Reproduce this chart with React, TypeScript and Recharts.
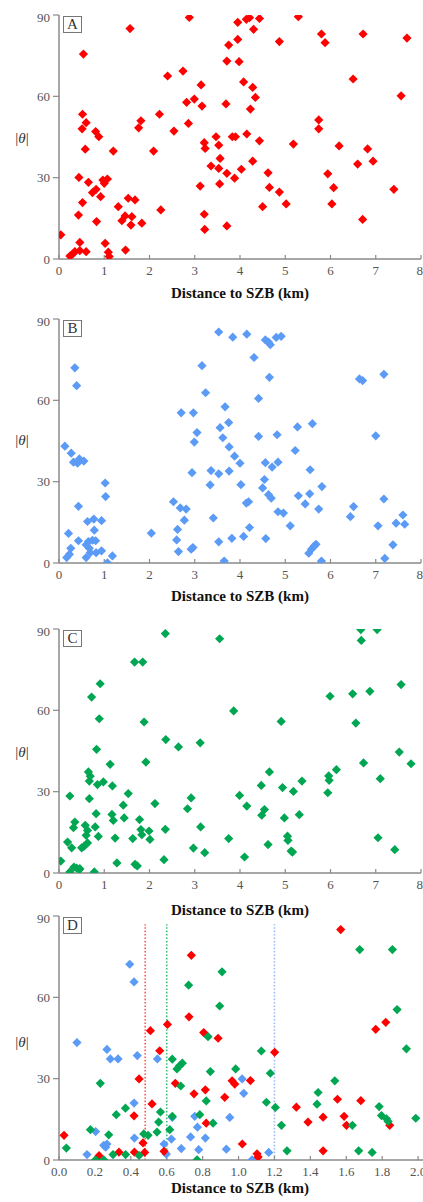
import React from "react";
import {
  ReferenceLine,
  Scatter,
  ScatterChart,
  XAxis,
  YAxis,
} from "recharts";

// [distance km, |theta|]
const redA: [number, number][] = [
  [0.04, 8.9], [0.24, 1.1], [0.3, 1.8], [0.35, 2.7], [0.46, 3.1], [0.6, 2.7],
  [0.46, 6.1], [0.43, 16.2], [0.44, 30.1], [0.52, 20.8], [0.58, 40.5], [0.51, 48],
  [0.6, 50.3], [0.52, 53.4], [0.54, 75.6], [0.65, 28.3], [0.74, 24.5], [0.82, 25.7],
  [0.83, 13.8], [0.81, 47], [0.88, 45.1], [0.92, 23], [0.97, 29.1], [1.0, 27.9],
  [1.07, 29.5], [1.02, 5.8], [1.09, 2.5], [1.11, 0.9], [1.2, 39.8], [1.31, 19.3],
  [1.39, 14.1], [1.46, 15.9], [1.47, 3.3], [1.53, 22.4], [1.57, 85], [1.59, 12.5],
  [1.61, 15.6], [1.68, 21.8], [1.76, 48.4], [1.81, 51], [1.83, 13.2], [2.09, 39.8],
  [2.22, 53.4], [2.25, 18.1], [2.4, 67.5], [2.54, 47.2], [2.74, 69.3], [2.82, 57.8],
  [2.86, 50], [2.88, 89.1], [2.99, 59], [3.12, 26.9], [3.14, 64.2], [3.16, 56.4],
  [3.21, 42.9], [3.23, 40.8], [3.21, 16.5], [3.22, 10.9], [3.36, 34.3], [3.47, 45.1],
  [3.53, 33.4], [3.53, 42], [3.56, 37.1], [3.55, 27.7], [3.71, 12.2], [3.71, 31.6],
  [3.69, 57.2], [3.71, 73], [3.75, 78.9], [3.83, 45.1], [3.9, 45.1], [3.88, 29.8],
  [3.95, 81], [3.95, 87.3], [3.98, 72.8], [4.03, 33.1], [4.08, 65.3], [4.14, 88.4],
  [4.15, 46.1], [4.21, 89], [4.23, 55.3], [4.28, 63.3], [4.3, 84.7], [4.28, 36.1],
  [4.34, 59.6], [4.43, 88.7], [4.43, 43.6], [4.5, 19.3], [4.62, 31.8], [4.65, 26.4],
  [4.87, 24.7], [4.87, 80.2], [5.02, 20.3], [5.18, 42.4], [5.29, 89.4], [5.74, 48],
  [5.74, 51.3], [5.8, 83], [5.88, 79.8], [5.94, 31.4], [6.03, 20.3], [6.07, 26.3],
  [6.19, 41.7], [6.5, 66.4], [6.6, 35], [6.71, 14.6], [6.72, 83], [6.82, 40.6],
  [6.94, 36.1], [7.4, 25.7], [7.56, 60.2], [7.69, 81.5],
];

const blueB: [number, number][] = [
  [0.13, 43.1], [0.17, 2], [0.23, 3.2], [0.21, 10.9], [0.26, 5.4], [0.27, 40.5],
  [0.32, 37.2], [0.35, 72], [0.39, 65.4], [0.45, 38.4], [0.41, 36.8], [0.43, 20.9],
  [0.43, 8.2], [0.55, 37.6], [0.6, 2], [0.6, 6.7], [0.63, 15.3], [0.65, 7.9],
  [0.67, 5.4], [0.69, 3.8], [0.74, 8.4], [0.77, 16.2], [0.78, 12.1], [0.81, 8.2],
  [0.82, 3.8], [0.94, 15.6], [0.94, 4.5], [1.02, 29.5], [1.03, 24.5], [1.07, 0.1],
  [1.18, 2.6], [2.04, 11], [2.53, 22.6], [2.62, 12.4], [2.6, 8.5], [2.64, 4.2],
  [2.68, 20.3], [2.7, 55.4], [2.77, 15.8], [2.81, 19.9], [2.92, 5.1], [2.96, 5.7],
  [2.94, 33.3], [2.97, 55.4], [2.99, 44.6], [3.05, 48.1], [3.16, 72.8], [3.24, 62.8],
  [3.34, 28.8], [3.36, 34.1], [3.41, 16.6], [3.53, 85.2], [3.53, 32.9], [3.53, 7.8],
  [3.56, 49.9], [3.62, 46.2], [3.65, 0.7], [3.67, 57.6], [3.75, 51.8], [3.76, 42.8],
  [3.76, 33.9], [3.82, 9.1], [3.84, 83.3], [3.88, 39.4], [4.0, 36.8], [4.02, 28.9],
  [4.08, 9.8], [4.14, 22.1], [4.15, 84.4], [4.19, 22.6], [4.21, 13.1], [4.31, 75.8],
  [4.41, 60.7], [4.41, 46.7], [4.5, 27.7], [4.54, 30.8], [4.56, 37], [4.56, 82.3],
  [4.57, 9], [4.63, 81.5], [4.63, 25.2], [4.67, 80.5], [4.65, 68.5], [4.69, 23.9],
  [4.71, 35.4], [4.8, 83.2], [4.82, 47.3], [4.84, 37.2], [4.84, 18.9], [4.91, 83.6],
  [4.96, 18.4], [5.11, 13.7], [5.22, 41.5], [5.27, 50.2], [5.29, 24.8], [5.44, 21.8],
  [5.52, 3.6], [5.54, 25.5], [5.55, 34.4], [5.58, 5.1], [5.6, 51.4], [5.64, 6.3],
  [5.68, 6.9], [5.74, 19.9], [5.8, 0.7], [5.81, 28.2], [6.44, 17.1], [6.51, 20.8],
  [6.64, 67.9], [6.71, 67.3], [7.0, 46.9], [7.05, 13.7], [7.18, 69.6], [7.18, 23.6],
  [7.2, 1.7], [7.38, 6.7], [7.45, 14.7], [7.6, 17.7], [7.64, 14.3],
];

const greenC: [number, number][] = [
  [0.04, 4.4], [0.19, 11.4], [0.24, 28.4], [0.24, 0.4], [0.28, 9.3], [0.32, 16.7],
  [0.35, 18.8], [0.33, 2.2], [0.39, 1.8], [0.46, 1.6], [0.45, 1.2], [0.5, 9.3],
  [0.55, 9.8], [0.58, 17.6], [0.6, 13.9], [0.63, 11.1], [0.63, 15.7], [0.65, 37.3],
  [0.67, 33.9], [0.69, 35.7], [0.67, 27.4], [0.72, 64.9], [0.78, 0.4], [0.8, 17],
  [0.82, 21.9], [0.83, 45.6], [0.85, 32.6], [0.87, 13.5], [0.89, 56.9], [0.91, 69.8],
  [0.98, 33.6], [1.13, 40.1], [1.17, 21.6], [1.18, 32.1], [1.2, 19.4], [1.24, 12.9],
  [1.28, 3.7], [1.42, 25], [1.44, 20.3], [1.53, 29.3], [1.63, 12.7], [1.67, 77.8],
  [1.68, 3.2], [1.73, 2.6], [1.78, 19.7], [1.81, 16], [1.83, 14.1], [1.85, 77.8],
  [1.88, 55.7], [1.92, 40.9], [1.99, 15.5], [2.01, 12.4], [2.12, 25.6], [2.32, 4.9],
  [2.35, 88.3], [2.36, 49.2], [2.35, 16.1], [2.64, 46.5], [2.84, 23.7], [2.92, 27.7],
  [2.97, 9.2], [3.12, 48], [3.13, 17], [3.22, 7.5], [3.55, 86.4], [3.75, 12.7],
  [3.86, 59.8], [3.99, 28.6], [4.1, 5.9], [4.15, 24.7], [4.47, 32.3], [4.48, 21.3],
  [4.54, 23.4], [4.62, 10.5], [4.65, 37.3], [4.91, 55.9], [4.94, 31.5], [4.98, 20.3],
  [5.05, 13.6], [5.06, 12], [5.13, 8.1], [5.16, 7.7], [5.18, 30.1], [5.31, 21.5],
  [5.37, 33.9], [5.94, 29.6], [5.96, 35.8], [5.97, 34.2], [5.99, 65.2], [6.13, 38.1],
  [6.49, 66.1], [6.56, 55.3], [6.67, 89.8], [6.68, 85.8], [6.73, 40.6], [6.87, 67],
  [7.03, 89.8], [7.05, 13], [7.1, 34.8], [7.42, 8.6], [7.52, 44.6], [7.56, 69.5],
  [7.78, 40.3],
];

const blueD: [number, number][] = [
  [0.1, 43.3], [0.156, 2], [0.204, 10.5], [0.267, 40.8], [0.286, 37.3], [0.329, 37.3],
  [0.249, 5.4], [0.26, 4.7], [0.267, 5.9], [0.394, 72.2], [0.418, 65.7], [0.418, 21],
  [0.42, 8.1], [0.436, 38.5], [0.548, 37.3], [0.585, 5.9], [0.598, 2.2], [0.626, 7.7],
  [0.631, 15.7], [0.681, 4.2], [0.733, 8.5], [0.756, 16.1], [0.771, 12.1], [0.778, 3.8],
  [0.815, 8.1], [0.932, 4], [0.951, 15.7], [1.02, 29.9], [1.029, 24.6], [1.075, 0.1],
  [1.168, 2.8],
];

const redD: [number, number][] = [
  [0.028, 9.1], [0.223, 1.6], [0.334, 2.9], [0.42, 2.9], [0.468, 6.3], [0.477, 2.8],
  [0.585, 3.2], [0.418, 16.3], [0.446, 29.9], [0.509, 47.7], [0.518, 20.7], [0.561, 40.3],
  [0.604, 50], [0.648, 28.3], [0.724, 52.8], [0.737, 75.5], [0.752, 24.4], [0.806, 47],
  [0.815, 25.9], [0.82, 13.6], [0.886, 44.9], [0.923, 23.1], [0.964, 29.2], [0.979, 28],
  [1.021, 5.9], [1.066, 29.3], [1.103, 2.3], [1.109, 1.1], [1.201, 39.7], [1.322, 19.5],
  [1.387, 14], [1.471, 3.4], [1.471, 15.8], [1.551, 22.4], [1.569, 85], [1.588, 16.1],
  [1.601, 12.8], [1.681, 21.9], [1.764, 48.2], [1.82, 50.8], [1.842, 12.8],
];

const greenD: [number, number][] = [
  [0.041, 4.4], [0.175, 11.2], [0.23, 28.3], [0.204, 0.1], [0.249, 0.1], [0.277, 9.3],
  [0.301, 2], [0.319, 16.7], [0.37, 19.1], [0.371, 2], [0.446, 1.7], [0.472, 9.6],
  [0.496, 9.1], [0.546, 10.3], [0.555, 14], [0.565, 17.7], [0.617, 11.2], [0.631, 16.1],
  [0.631, 37.2], [0.657, 33.6], [0.672, 34.8], [0.687, 35.7], [0.678, 27.3], [0.722, 64.5],
  [0.769, 0.1], [0.784, 16.7], [0.82, 21.8], [0.83, 45.5], [0.843, 32.6], [0.858, 13.6],
  [0.895, 56.8], [0.908, 69.4], [0.984, 33.6], [1.127, 40.2], [1.155, 21.3], [1.177, 32],
  [1.205, 19.4], [1.239, 12.8], [1.27, 3.4], [1.437, 20.6], [1.443, 24.9], [1.536, 29.2],
  [1.634, 12.8], [1.669, 3.4], [1.675, 77.6], [1.744, 2.8], [1.783, 19.7], [1.796, 16.4],
  [1.824, 15.2], [1.833, 14.2], [1.857, 77.6], [1.883, 55.5], [1.935, 41], [1.987, 15.4],
];

// dotted cut-off distances in panel D: red, green, blue
const cutoffs = [0.48, 0.6, 1.2];
const cutoffTop = 87;

const yTicks = [0, 30, 60, 90];
const xTicksKm = [0, 1, 2, 3, 4, 5, 6, 7, 8];
const xTicksD = [0, 0.2, 0.4, 0.6, 0.8, 1.0, 1.2, 1.4, 1.6, 1.8, 2.0, 2.2];

const RED = "#ff0000";
const BLUE = "#5b9bf6";
const GREEN = "#00a651";
const cutoffColors = ["#ff5a5a", "#3cbf74", "#9bbcf7"];
const AXIS = "#8a8a8a";
const FONT = "'Times New Roman', 'Liberation Serif', Times, serif";

const pts = (rows: [number, number][]) => rows.map(([x, y]) => ({ x, y }));

function Diamond(props: any) {
  const { cx, cy, fill } = props;
  const r = 4.6;
  return (
    <path
      d={`M${cx},${cy - r}L${cx + r},${cy}L${cx},${cy + r}L${cx - r},${cy}Z`}
      fill={fill}
    />
  );
}

type Series = { rows: [number, number][]; color: string };

type PanelProps = {
  top: number;
  letter: string;
  series: Series[];
  xMax: number;
  xTicks: number[];
  width: number;
  decimals: number;
  labelY: number;
  cutoffLines?: boolean;
};

const PLOT_H = 244;
const M_TOP = 6;
const X_AXIS_H = 30;

function Panel({ top, letter, series, xMax, xTicks, width, decimals, labelY, cutoffLines }: PanelProps) {
  return (
    <>
      <div style={{ position: "absolute", left: 0, top: top - M_TOP }}>
        <ScatterChart
          width={width}
          height={M_TOP + PLOT_H + X_AXIS_H}
          margin={{ top: M_TOP, right: 2, bottom: 0, left: 14 }}
        >
          <XAxis
            type="number"
            dataKey="x"
            domain={[0, xMax]}
            ticks={xTicks}
            allowDataOverflow
            height={X_AXIS_H}
            tickFormatter={(v: number) => v.toFixed(decimals)}
            axisLine={{ stroke: AXIS, strokeWidth: 1.5 }}
            tickLine={{ stroke: AXIS, strokeWidth: 1.2 }}
            tickSize={-4}
            tickMargin={11}
            tick={{ fill: "#555", fontSize: 13, fontFamily: FONT }}
          />
          <YAxis
            type="number"
            dataKey="y"
            domain={[0, 90]}
            ticks={yTicks}
            allowDataOverflow
            width={45}
            axisLine={{ stroke: AXIS, strokeWidth: 1.5 }}
            tickLine={{ stroke: AXIS, strokeWidth: 1.2 }}
            tickSize={6}
            tickMargin={3}
            tick={{ fill: "#555", fontSize: 13, fontFamily: FONT }}
          />
          {cutoffLines &&
            cutoffs.map((c, i) => (
              <ReferenceLine
                key={i}
                segment={[
                  { x: c, y: 0 },
                  { x: c, y: cutoffTop },
                ]}
                stroke={cutoffColors[i]}
                strokeWidth={1.6}
                strokeDasharray="1.6 1.8"
              />
            ))}
          {series.map((s, i) => (
            <Scatter
              key={i}
              data={pts(s.rows)}
              fill={s.color}
              shape={Diamond}
              isAnimationActive={false}
            />
          ))}
        </ScatterChart>
        <div
          style={{
            position: "absolute",
            left: 63,
            top: M_TOP + 1,
            width: 17,
            height: 15,
            border: "1px solid #777",
            background: "#fff",
            fontFamily: FONT,
            fontSize: 15,
            lineHeight: "15px",
            textAlign: "center",
            color: "#333",
          }}
        >
          {letter}
        </div>
      </div>
      <div
        style={{
          position: "absolute",
          left: 7,
          top: labelY - 10,
          width: 30,
          height: 20,
          lineHeight: "20px",
          textAlign: "center",
          fontFamily: FONT,
          fontSize: 15,
          color: "#333",
        }}
      >
        |<i>θ</i>|
      </div>
    </>
  );
}

function Title({ y }: { y: number }) {
  return (
    <div
      style={{
        position: "absolute",
        left: 140,
        top: y - 10,
        width: 200,
        height: 20,
        lineHeight: "20px",
        textAlign: "center",
        fontFamily: FONT,
        fontWeight: "bold",
        fontSize: 15,
        color: "#111",
      }}
    >
      Distance to SZB (km)
    </div>
  );
}

export default function App() {
  return (
    <div
      style={{
        position: "absolute",
        left: 0,
        top: 0,
        width: 423,
        height: 1202,
        overflow: "hidden",
        background: "#fff",
      }}
    >
      <Panel top={15} letter="A" series={[{ rows: redA, color: RED }]} xMax={8} xTicks={xTicksKm} width={423} decimals={0} labelY={138} />
      <Panel top={319} letter="B" series={[{ rows: blueB, color: BLUE }]} xMax={8} xTicks={xTicksKm} width={423} decimals={0} labelY={440} />
      <Panel top={629} letter="C" series={[{ rows: greenC, color: GREEN }]} xMax={8} xTicks={xTicksKm} width={423} decimals={0} labelY={752} />
      <Panel
        top={916}
        letter="D"
        series={[
          { rows: blueD, color: BLUE },
          { rows: redD, color: RED },
          { rows: greenD, color: GREEN },
        ]}
        xMax={2.2}
        xTicks={xTicksD}
        width={456}
        decimals={1}
        labelY={1042}
        cutoffLines
      />
      <Title y={293} />
      <Title y={596} />
      <Title y={910} />
      <Title y={1188} />
    </div>
  );
}
